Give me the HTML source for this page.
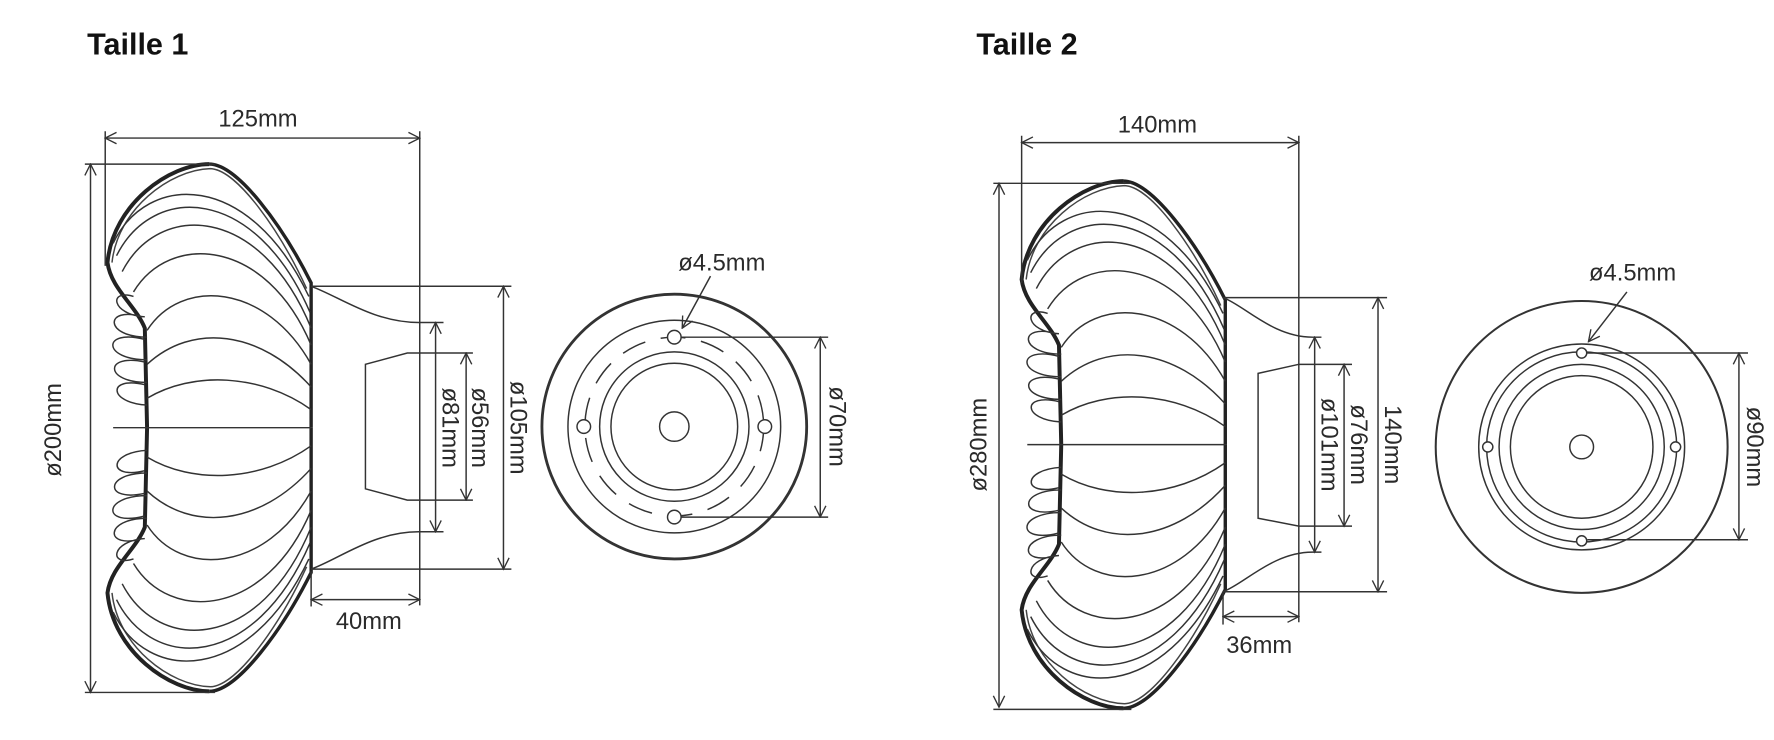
<!DOCTYPE html>
<html><head><meta charset="utf-8"><style>
html,body{margin:0;padding:0;background:#fff;}
svg{display:block;}
text{font-family:"Liberation Sans",sans-serif;fill:#2a2a2a;}
.t{font-size:21px;}
.h{font-size:27px;font-weight:bold;fill:#111;}
</style></head><body>
<svg width="1774" height="740" viewBox="0 0 1568 654" xmlns="http://www.w3.org/2000/svg">
<defs>
<marker id="a" viewBox="0 0 12 12" refX="11" refY="6" markerWidth="12" markerHeight="12" markerUnits="userSpaceOnUse" orient="auto-start-reverse">
<path d="M1,1 L11,6 L1,11" fill="none" stroke="#333" stroke-width="1.2"/>
</marker>
<g id="half">
<path d="M185,145 C150,145 100,180 95,232 C98,255 120,270 128,290 L130,378" fill="none" stroke="#222" stroke-width="3.5"/>
<path d="M185,145 C210,145 250,200 275,250 L275,378" fill="none" stroke="#222" stroke-width="3"/>
<path d="M186,149 C150,150 104,185 99,232 M186,149 C210,150 248,205 271,255" fill="none" stroke="#444" stroke-width="1.3"/>
<g fill="none" stroke="#333" stroke-width="1.3">
<path d="M100,215 C130,152 220,150 273,262"/>
<path d="M103,226 C135,162 225,163 274,276"/>
<path d="M108,240 C140,178 230,180 275,290"/>
<path d="M118,258 C150,205 235,210 275,305"/>
<path d="M130,292 C160,245 235,250 275,322"/>
<path d="M130,322 C170,285 230,292 275,342"/>
<path d="M130,352 C170,328 230,330 275,362"/>
<path d="M128,300 C90,290 90,318 130,318 M128,320 C92,312 92,338 130,338 M128,340 C95,332 95,356 130,358 M126,280 C92,270 92,298 130,298 M118,262 C96,255 98,278 128,280"/>
</g>
</g>
<g id="shade">
<use href="#half"/>
<use href="#half" transform="translate(0,756) scale(1,-1)"/>
<line x1="100" y1="378" x2="275" y2="378" stroke="#333" stroke-width="1.3"/>
</g>
</defs>
<g fill="none" stroke="#333" stroke-width="1.3">
<!-- Taille 1 -->
<use href="#shade"/>
<line x1="93" y1="122" x2="371" y2="122" marker-start="url(#a)" marker-end="url(#a)"/>
<line x1="93" y1="116" x2="93" y2="235"/>
<line x1="371" y1="116" x2="371" y2="535"/>
<line x1="80" y1="145" x2="612" y2="145" transform="rotate(0)" style="display:none"/>
<line x1="80" y1="145" x2="80" y2="612" marker-start="url(#a)" marker-end="url(#a)"/>
<line x1="75" y1="145" x2="190" y2="145"/><line x1="75" y1="612" x2="190" y2="612"/>
<path d="M275,253 L452,253 M275,503 L452,503"/>
<path d="M275,253 C300,262 330,285 370,285 L392,285 M275,503 C300,494 330,470 370,470 L392,470"/>
<path d="M418,312 L360,312 L323,322 L323,432 L360,442 L418,442"/>
<line x1="445" y1="253" x2="445" y2="503" marker-start="url(#a)" marker-end="url(#a)"/>
<line x1="385" y1="285" x2="385" y2="470" marker-start="url(#a)" marker-end="url(#a)"/>
<line x1="412" y1="312" x2="412" y2="442" marker-start="url(#a)" marker-end="url(#a)"/>
<line x1="275" y1="530" x2="371" y2="530" marker-start="url(#a)" marker-end="url(#a)"/>
<line x1="275" y1="505" x2="275" y2="536"/>
<circle cx="596" cy="377" r="117" stroke-width="2.5"/>
<circle cx="596" cy="377" r="94"/>
<circle cx="596" cy="377" r="79" stroke-dasharray="22 14"/>
<circle cx="596" cy="377" r="66"/>
<circle cx="596" cy="377" r="56"/>
<circle cx="596" cy="377" r="13"/>
<circle cx="596" cy="298" r="6" fill="#fff"/><circle cx="516" cy="377" r="6" fill="#fff"/>
<circle cx="676" cy="377" r="6" fill="#fff"/><circle cx="596" cy="457" r="6" fill="#fff"/>
<path d="M602,298 L732,298 M602,457 L732,457"/>
<line x1="725" y1="298" x2="725" y2="457" marker-start="url(#a)" marker-end="url(#a)"/>
<line x1="628" y1="244" x2="603" y2="290" marker-end="url(#a)"/>
<!-- Taille 2 -->
<use href="#shade" transform="translate(808,15)"/>
<line x1="903" y1="126" x2="1148" y2="126" marker-start="url(#a)" marker-end="url(#a)"/>
<line x1="903" y1="120" x2="903" y2="250"/>
<line x1="1148" y1="120" x2="1148" y2="550"/>
<line x1="883" y1="162" x2="883" y2="625" marker-start="url(#a)" marker-end="url(#a)"/>
<line x1="878" y1="162" x2="1000" y2="162"/><line x1="878" y1="627" x2="1000" y2="627"/>
<path d="M1081,263 L1226,263 M1081,523 L1226,523"/>
<path d="M1081,263 C1100,270 1125,298 1160,298 L1168,298 M1081,523 C1100,516 1125,488 1160,488 L1168,488"/>
<path d="M1195,322 L1148,322 L1112,330 L1112,458 L1148,465 L1195,465"/>
<line x1="1218" y1="263" x2="1218" y2="523" marker-start="url(#a)" marker-end="url(#a)"/>
<line x1="1162" y1="298" x2="1162" y2="488" marker-start="url(#a)" marker-end="url(#a)"/>
<line x1="1188" y1="322" x2="1188" y2="465" marker-start="url(#a)" marker-end="url(#a)"/>
<line x1="1081" y1="545" x2="1148" y2="545" marker-start="url(#a)" marker-end="url(#a)"/>
<line x1="1081" y1="523" x2="1081" y2="552"/>
<circle cx="1398" cy="395" r="129" stroke-width="1.8"/>
<circle cx="1398" cy="395" r="91"/>
<circle cx="1398" cy="395" r="84"/>
<circle cx="1398" cy="395" r="73"/>
<circle cx="1398" cy="395" r="63"/>
<circle cx="1398" cy="395" r="10.5"/>
<circle cx="1398" cy="312" r="4.5" fill="#fff"/><circle cx="1315" cy="395" r="4.5" fill="#fff"/>
<circle cx="1481" cy="395" r="4.5" fill="#fff"/><circle cx="1398" cy="478" r="4.5" fill="#fff"/>
<path d="M1403,312 L1545,312 M1403,477 L1545,477"/>
<line x1="1537" y1="312" x2="1537" y2="477" marker-start="url(#a)" marker-end="url(#a)"/>
<line x1="1438" y1="258" x2="1404" y2="302" marker-end="url(#a)"/>
</g>
<text class="h" x="77" y="48">Taille 1</text>
<text class="h" x="863" y="48">Taille 2</text>
<text class="t" x="228" y="112" text-anchor="middle">125mm</text>
<text class="t" x="326" y="556" text-anchor="middle">40mm</text>
<text class="t" x="638" y="239" text-anchor="middle">ø4.5mm</text>
<text class="t" transform="translate(54,380) rotate(-90)" text-anchor="middle">ø200mm</text>
<text class="t" transform="translate(451,378) rotate(90)" text-anchor="middle">ø105mm</text>
<text class="t" transform="translate(391,378) rotate(90)" text-anchor="middle">ø81mm</text>
<text class="t" transform="translate(417,378) rotate(90)" text-anchor="middle">ø56mm</text>
<text class="t" transform="translate(733,377) rotate(90)" text-anchor="middle">ø70mm</text>
<text class="t" x="1023" y="117" text-anchor="middle">140mm</text>
<text class="t" x="1113" y="577" text-anchor="middle">36mm</text>
<text class="t" x="1443" y="248" text-anchor="middle">ø4.5mm</text>
<text class="t" transform="translate(872,393) rotate(-90)" text-anchor="middle">ø280mm</text>
<text class="t" transform="translate(1224,393) rotate(90)" text-anchor="middle">140mm</text>
<text class="t" transform="translate(1168,393) rotate(90)" text-anchor="middle">ø101mm</text>
<text class="t" transform="translate(1194,393) rotate(90)" text-anchor="middle">ø76mm</text>
<text class="t" transform="translate(1544,395) rotate(90)" text-anchor="middle">ø90mm</text>
</svg>
</body></html>
